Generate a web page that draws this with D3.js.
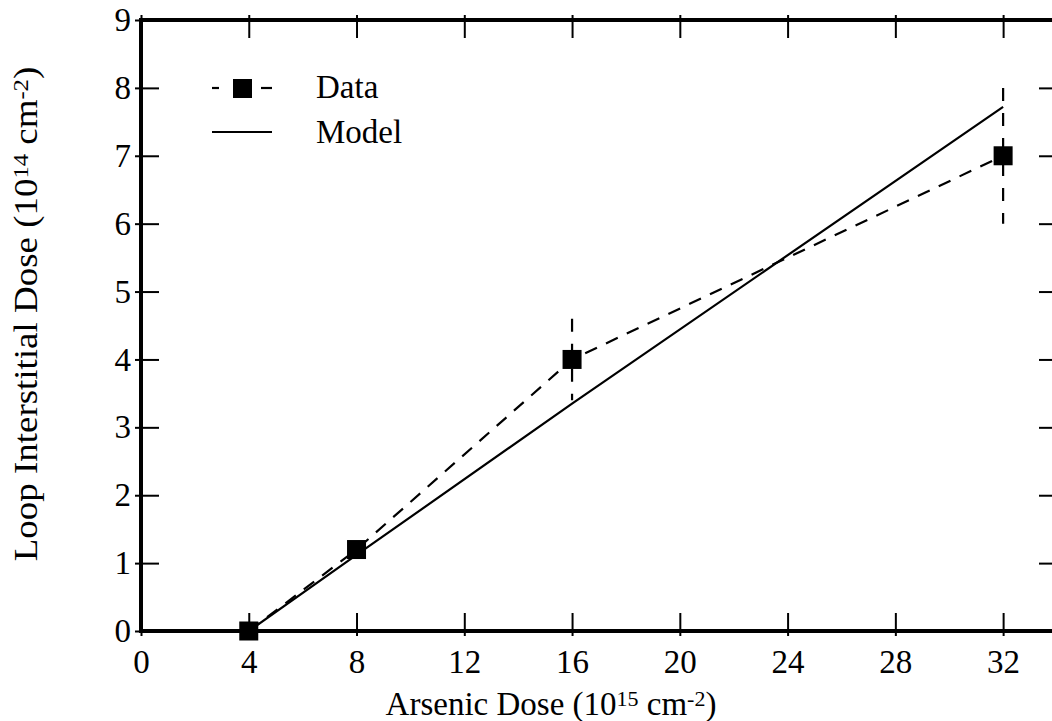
<!DOCTYPE html>
<html><head><meta charset="utf-8">
<script src="https://cdn.jsdelivr.net/npm/d3@7"></script>
<style>
html,body{margin:0;padding:0;background:#fff;overflow:hidden}
text{font-family:"Liberation Serif","Times New Roman",serif;fill:#000}
</style></head>
<body>
<svg id="c" width="1052" height="721"></svg>
<script>
const dataX = [4, 8, 16, 32];
const dataY = [0, 1.2, 4.0, 7.0];
const dataErr = [0, 0, 0.6, 1.0];
const modelX = [4, 8, 16, 32];
const modelY = [0, 1.12, 3.35, 7.72];
const xTicks = [0, 4, 8, 12, 16, 20, 24, 28, 32];
const yTicks = [0, 1, 2, 3, 4, 5, 6, 7, 8, 9];
const legendLabels = ["Data", "Model"];

const svg = d3.select("#c");
const L = 141, R = 1057, T = 20, B = 631;
const FS = 33;
const x = d3.scaleLinear().domain([0, 34]).range([L, R]);
const y = d3.scaleLinear().domain([0, 9]).range([B, T]);

function styleAxis(g, inward, outward, horiz) {
  g.select(".domain").remove();
  g.selectAll(".tick line").attr("stroke", "#000").attr("stroke-width", 2);
  if (horiz) g.selectAll(".tick line").attr("y1", inward).attr("y2", outward);
  else g.selectAll(".tick line").attr("x1", inward).attr("x2", outward);
}

// bottom axis
const gb = svg.append("g").attr("transform", `translate(0,${B})`)
  .call(d3.axisBottom(x).tickValues(xTicks).tickSize(5).tickFormat(d3.format("d")));
styleAxis(gb, -18, 5, true);
gb.selectAll("text").attr("y", 42).attr("dy", 0).attr("font-size", FS)
  .attr("font-family", "Liberation Serif").attr("fill", "#000");
// top axis
const gt = svg.append("g").attr("transform", `translate(0,${T})`)
  .call(d3.axisTop(x).tickValues(xTicks).tickSize(5).tickFormat(""));
styleAxis(gt, 18, -5, true);
// left axis
const gl = svg.append("g").attr("transform", `translate(${L},0)`)
  .call(d3.axisLeft(y).tickValues(yTicks).tickSize(5).tickFormat(d3.format("d")));
styleAxis(gl, 18, -6, false);
gl.selectAll("text").attr("x", -10).attr("dy", "0.32em").attr("font-size", FS)
  .attr("font-family", "Liberation Serif").attr("fill", "#000");
// right axis
const gr = svg.append("g").attr("transform", `translate(${R},0)`)
  .call(d3.axisRight(y).tickValues(yTicks).tickSize(5).tickFormat(""));
styleAxis(gr, -18, 5, false);

// frame
const frame = svg.append("g").attr("stroke", "#000").attr("stroke-width", 4).attr("fill", "none");
frame.append("line").attr("x1", L).attr("x2", R + 2).attr("y1", T).attr("y2", T);
frame.append("line").attr("x1", L).attr("x2", R + 2).attr("y1", B).attr("y2", B);
frame.append("line").attr("x1", L).attr("x2", L).attr("y1", T - 2).attr("y2", B + 2);
frame.append("line").attr("x1", R).attr("x2", R).attr("y1", T - 2).attr("y2", B + 2);

// model line
const line = d3.line().x(d => x(d[0])).y(d => y(d[1]));
svg.append("path").datum(modelX.map((v, i) => [v, modelY[i]]))
  .attr("d", line).attr("fill", "none").attr("stroke", "#000").attr("stroke-width", 2.2);
// data line dashed
svg.append("path").datum(dataX.map((v, i) => [v, dataY[i]]))
  .attr("d", line).attr("fill", "none").attr("stroke", "#000").attr("stroke-width", 2.2)
  .attr("stroke-dasharray", "13,10");
// error bars
svg.append("g").selectAll("line").data(dataX.map((v, i) => [v, dataY[i], dataErr[i]]).filter(d => d[2] > 0))
  .join("line")
  .attr("x1", d => x(d[0])).attr("x2", d => x(d[0]))
  .attr("y1", d => y(d[1] + d[2])).attr("y2", d => y(d[1] - d[2]))
  .attr("stroke", "#000").attr("stroke-width", 2.2).attr("stroke-dasharray", "13,12");
// markers
const S = 19;
svg.append("g").selectAll("rect").data(dataX.map((v, i) => [v, dataY[i]]))
  .join("rect")
  .attr("x", d => x(d[0]) - S / 2).attr("y", d => y(d[1]) - S / 2)
  .attr("width", S).attr("height", S).attr("fill", "#000");

// legend
const lg = svg.append("g");
lg.append("line").attr("x1", 212).attr("x2", 219).attr("y1", 88).attr("y2", 88).attr("stroke", "#000").attr("stroke-width", 2.2);
lg.append("line").attr("x1", 261).attr("x2", 272).attr("y1", 88).attr("y2", 88).attr("stroke", "#000").attr("stroke-width", 2.2);
lg.append("rect").attr("x", 233).attr("y", 79).attr("width", S).attr("height", S).attr("fill", "#000");
lg.append("line").attr("x1", 212).attr("x2", 272).attr("y1", 132).attr("y2", 132).attr("stroke", "#000").attr("stroke-width", 2.2);
lg.append("text").attr("x", 316).attr("y", 98).attr("font-size", FS).text(legendLabels[0]);
lg.append("text").attr("x", 316).attr("y", 143).attr("font-size", FS).text(legendLabels[1]);

// axis titles
function title(t, parts) {
  parts.forEach(p => {
    const ts = t.append("tspan").text(p[0]);
    if (p[1] === "sup") ts.attr("font-size", 22).attr("baseline-shift", "9");
  });
}
const xt = svg.append("text").attr("x", 551).attr("y", 715).attr("text-anchor", "middle").attr("font-size", FS);
title(xt, [["Arsenic Dose (10"], ["15", "sup"], [" cm"], ["-2", "sup"], [")"]]);
const yt = svg.append("text").attr("transform", "translate(37,314) rotate(-90) scale(1.12,1)").attr("text-anchor", "middle").attr("font-size", FS);
title(yt, [["Loop Interstitial Dose (10"], ["14", "sup"], [" cm"], ["-2", "sup"], [")"]]);
</script>
</body></html>
